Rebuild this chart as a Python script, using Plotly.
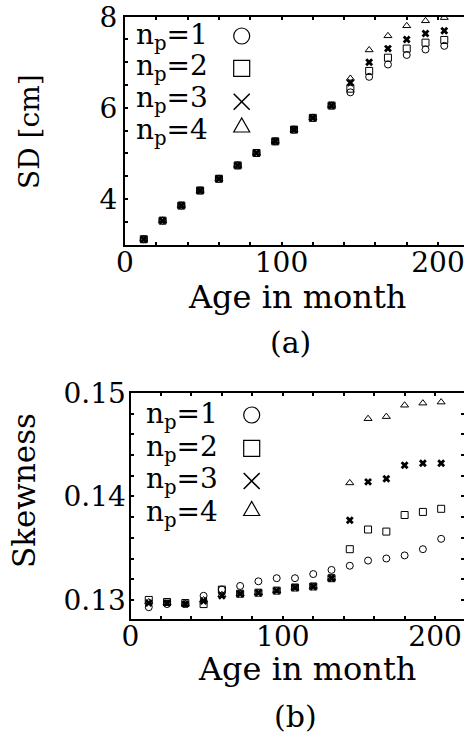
import plotly.graph_objects as go

# ---------------- data ----------------
ages = [12, 24, 36, 48, 60, 72, 84, 96, 108, 120, 132, 144, 156, 168, 180, 192, 204]

sd_np1 = [3.115, 3.524, 3.855, 4.185, 4.443, 4.736, 5.009, 5.264, 5.522, 5.78, 6.05,
          6.34, 6.68, 6.95, 7.16, 7.28, 7.36]
sd_np2 = [3.115, 3.524, 3.855, 4.185, 4.443, 4.736, 5.009, 5.264, 5.522, 5.78, 6.05,
          6.42, 6.81, 7.10, 7.30, 7.43, 7.49]
sd_np3 = [3.115, 3.524, 3.855, 4.185, 4.443, 4.736, 5.009, 5.264, 5.522, 5.78, 6.05,
          6.55, 7.00, 7.30, 7.50, 7.63, 7.69]
sd_np4 = [3.115, 3.524, 3.855, 4.185, 4.443, 4.736, 5.009, 5.264, 5.522, 5.78, 6.05,
          6.645, 7.27, 7.58, 7.80, 7.91, 7.98]

sk_np1 = [0.1293, 0.1296, 0.1296, 0.1304, 0.1310, 0.13135, 0.1318, 0.1321, 0.1321, 0.1325,
          0.1329, 0.1333, 0.1338, 0.1340, 0.1343, 0.1349, 0.1359]
sk_np2 = [0.1300, 0.1298, 0.1297, 0.1296, 0.1310, 0.1306, 0.1307, 0.1309, 0.1312, 0.1313,
          0.1321, 0.1349, 0.1368, 0.1366, 0.1382, 0.1385, 0.1388]
sk_np3 = [0.1297, 0.1297, 0.1296, 0.1299, 0.1304, 0.1306, 0.1307, 0.1309, 0.1312, 0.1313,
          0.1321, 0.1377, 0.1414, 0.1417, 0.1430, 0.1432, 0.1432]
sk_np4 = [0.1298, 0.1297, 0.1296, 0.1300, 0.1305, 0.1306, 0.1307, 0.1309, 0.1312, 0.1313,
          0.1321, 0.1413, 0.1475, 0.1477, 0.1488, 0.1490, 0.1491]

legend_labels = ["n<sub>p</sub>=1", "n<sub>p</sub>=2", "n<sub>p</sub>=3", "n<sub>p</sub>=4"]
symbols = ["circle-open", "square-open", "x", "triangle-up-open"]

x_major = [0, 100, 200]
x_minor = [20, 40, 60, 80, 120, 140, 160, 180]
sd_major = [4, 6, 8]
sd_minor = [3.5, 4.5, 5, 5.5, 6.5, 7, 7.5]
sk_major = [0.13, 0.14, 0.15]
sk_major_text = ["0.13", "0.14", "0.15"]
sk_minor = [0.132, 0.134, 0.136, 0.138, 0.142, 0.144, 0.146, 0.148]

# ---------------- figure ----------------
W, H = 464, 738
FONT = "DejaVu Serif"

def px(x):
    return x / W

def py(y):
    return (H - y) / H

fig = go.Figure()

for arr, sym in zip([sd_np1, sd_np2, sd_np3, sd_np4], symbols):
    fig.add_trace(go.Scatter(
        x=ages, y=arr, mode="markers", xaxis="x", yaxis="y", showlegend=False,
        marker=dict(symbol=sym, size=7, color="black",
                    line=dict(color="black", width=0 if sym == "x" else 1)),
    ))

for arr, sym in zip([sk_np1, sk_np2, sk_np3, sk_np4], symbols):
    fig.add_trace(go.Scatter(
        x=ages, y=arr, mode="markers", xaxis="x2", yaxis="y2", showlegend=False,
        marker=dict(symbol=sym, size=7, color="black",
                    line=dict(color="black", width=0 if sym == "x" else 1)),
    ))

# helper trace for right-hand ticks of panel (b)
fig.add_trace(go.Scatter(x=[None], y=[None], xaxis="x2", yaxis="y3",
                         showlegend=False, hoverinfo="skip"))

tickfont = dict(family=FONT, size=28, color="black")
common_axis = dict(showline=True, linecolor="black", linewidth=2, showgrid=False,
                   zeroline=False, ticks="inside", ticklen=3, tickwidth=1.5,
                   tickcolor="black", tickfont=tickfont, ticklabeloverflow="allow",
                   automargin=False)
minor_style = dict(ticks="inside", ticklen=3, tickwidth=1.5, tickcolor="black")

fig.update_layout(
    template="none",
    width=W, height=H,
    margin=dict(l=0, r=0, t=0, b=0, autoexpand=False),
    paper_bgcolor="white", plot_bgcolor="white",
    showlegend=False,
    xaxis=dict(domain=[125 / W, 1], range=[0, 216.6], anchor="y",
               tickvals=x_major, mirror="ticks", ticklabelstandoff=-8,
               minor=dict(tickvals=x_minor, **minor_style), **common_axis),
    yaxis=dict(domain=[py(244.5), py(16.7)], range=[3, 8], anchor="x",
               tickvals=sd_major,
               minor=dict(tickvals=sd_minor, **minor_style), **common_axis),
    xaxis2=dict(domain=[130.5 / W, 1], range=[0, 219], anchor="y2",
                tickvals=x_major, mirror="ticks", ticklabelstandoff=-9,
                minor=dict(tickvals=x_minor, **minor_style), **common_axis),
    yaxis2=dict(domain=[py(619), py(392.8)], range=[0.12816, 0.15], anchor="x2",
                tickvals=sk_major, ticktext=sk_major_text, ticklabelstandoff=-3,
                minor=dict(tickvals=sk_minor, **minor_style), **common_axis),
    yaxis3=dict(overlaying="y2", side="right", anchor="x2", range=[0.12816, 0.15],
                tickvals=sk_major + sk_minor, showticklabels=False, showline=False,
                showgrid=False, zeroline=False, ticks="inside", ticklen=3,
                tickwidth=1.5, tickcolor="black", automargin=False),
)

anns = [
    dict(text="SD [cm]", x=px(30), y=py(132), textangle=-90, size=28),
    dict(text="Skewness", x=px(24), y=py(491), textangle=-90, size=31),
    dict(text="Age in month", x=px(297), y=py(297), size=32),
    dict(text="Age in month", x=px(307), y=py(669), size=32),
    dict(text="(a)", x=px(290), y=py(342), size=30),
    dict(text="(b)", x=px(295), y=py(716), size=30),
]
for a in anns:
    size = a.pop("size")
    fig.add_annotation(xref="paper", yref="paper", showarrow=False,
                       xanchor="center", yanchor="middle",
                       font=dict(family=FONT, size=size, color="black"), **a)

legfont = dict(family=FONT, size=28, color="black")

# legends (text left, symbol right)
def legend_block(x_text, ys, x_sym, sym_ys):
    for lab, yy in zip(legend_labels, ys):
        fig.add_annotation(xref="paper", yref="paper", showarrow=False,
                           text=lab, x=px(x_text), y=py(yy), xanchor="left",
                           yanchor="middle", font=legfont)
    r = 8
    cy = sym_ys
    line = dict(color="black", width=1.2)
    fig.add_shape(type="circle", xref="paper", yref="paper",
                  x0=px(x_sym - r), x1=px(x_sym + r), y0=py(cy[0] + r), y1=py(cy[0] - r),
                  line=line)
    fig.add_shape(type="rect", xref="paper", yref="paper",
                  x0=px(x_sym - r), x1=px(x_sym + r), y0=py(cy[1] + r), y1=py(cy[1] - r),
                  line=line)
    fig.add_shape(type="line", xref="paper", yref="paper",
                  x0=px(x_sym - r), x1=px(x_sym + r), y0=py(cy[2] + r), y1=py(cy[2] - r),
                  line=dict(color="black", width=1.6))
    fig.add_shape(type="line", xref="paper", yref="paper",
                  x0=px(x_sym - r), x1=px(x_sym + r), y0=py(cy[2] - r), y1=py(cy[2] + r),
                  line=dict(color="black", width=1.6))
    path = "M {} {} L {} {} L {} {} Z".format(
        px(x_sym - r), py(cy[3] + 6.5), px(x_sym + r), py(cy[3] + 6.5),
        px(x_sym), py(cy[3] - 7.5))
    fig.add_shape(type="path", xref="paper", yref="paper", path=path, line=line)

legend_block(134, [36, 67, 100, 131], 241.7, [36, 68.3, 101.7, 125.5])
legend_block(144, [415, 448, 480, 513], 251.7, [415, 448.3, 481, 509])

fig.write_html("out.html",
               config={"displayModeBar": False},
               post_script="document.body.style.margin='0';"
                           "document.body.style.overflow='hidden';")
